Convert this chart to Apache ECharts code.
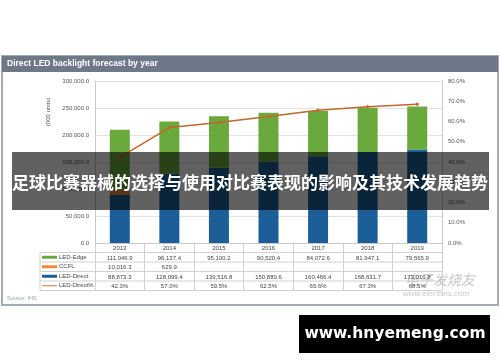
<!DOCTYPE html>
<html><head><meta charset="utf-8">
<script src="https://cdn.jsdelivr.net/npm/echarts@6/dist/echarts.min.js"></script>
<style>html,body{margin:0;padding:0;background:#fff}#c{width:500px;height:362px}</style>
</head><body><div id="c"></div>
<script>
const years = ['2013','2014','2015','2016','2017','2018','2019'];
const ledEdge = [111046.9, 96137.4, 95100.2, 90520.4, 84072.6, 81947.1, 79565.9];
const ccfl = [10016.3, 629.9, null, null, null, null, null];
const ledDirect = [88873.3, 128099.4, 139516.8, 150880.6, 160466.4, 168631.7, 173016.8];
const ledDirectPct = [42.3, 57.0, 59.5, 62.5, 65.6, 67.3, 68.5];
const leftTicks = [0, 50000, 100000, 150000, 200000, 250000, 300000];
const rightTicks = [0, 10, 20, 30, 40, 50, 60, 70, 80];

const fmtNum = v => v == null ? '' : v.toLocaleString('en-US', {minimumFractionDigits: 1, maximumFractionDigits: 1});
const fmtPct = v => v == null ? '' : v.toFixed(1) + '%';

const C_EDGE = '#6aaa3c', C_CCFL = '#ef8a3a', C_DIRECT = '#1c5f98', C_LINE = '#c4652d';
const GL = 95, GR = 442, GT = 81, GB = 243;
const rowH = 9.5;
const tableRows = [ledEdge.map(fmtNum), ccfl.map(fmtNum), ledDirect.map(fmtNum), ledDirectPct.map(fmtPct)];

const chart = echarts.init(document.getElementById('c'));

const xAxes = [{
  type: 'category', data: years, gridIndex: 0, position: 'bottom',
  axisLine: {show: true, lineStyle: {color: '#c8c8c8'}},
  axisTick: {show: true, interval: 0, length: rowH * 5, lineStyle: {color: '#d0d0d0'}},
  axisLabel: {fontSize: 6, color: '#444', margin: 2.5, fontFamily: 'Liberation Sans'}
}];
tableRows.forEach((row, i) => {
  xAxes.push({
    type: 'category', data: years, gridIndex: 0, position: 'bottom', offset: rowH * (i + 1),
    axisLine: {show: false}, axisTick: {show: false},
    axisLabel: {fontSize: 6, color: '#444', margin: 2.5, fontFamily: 'Liberation Sans', interval: 0,
      formatter: (v, idx) => row[idx]}
  });
});

const graphics = [
  {type: 'rect', shape: {x: 2, y: 56, width: 496, height: 249}, style: {fill: '#fff', stroke: '#a3abb5', lineWidth: 2}, z: -10},
  {type: 'rect', shape: {x: 2, y: 56, width: 496, height: 16}, style: {fill: '#6e7889'}, z: -9},
  {type: 'text', x: 7, y: 64, style: {text: 'Direct LED backlight forecast by year', fill: '#fff', font: 'bold 8.5px Liberation Sans', textVerticalAlign: 'middle'}},
  {type: 'text', x: 48, y: 112, rotation: Math.PI / 2, style: {text: '(000 units)', fill: '#555', font: '6px Liberation Sans', textAlign: 'center', textVerticalAlign: 'middle'}},
  {type: 'text', x: 7, y: 298, style: {text: 'Source: IHS', fill: '#9aa', font: '5.5px Liberation Sans', textVerticalAlign: 'middle'}},
  {type: 'line', shape: {x1: 40, y1: GB + rowH, x2: 40, y2: GB + rowH * 5}, style: {stroke: '#d0d0d0', lineWidth: 1}},
  {type: 'text', x: 440, y: 280, style: {text: '电子发烧友', fill: 'rgba(150,150,150,0.55)', font: 'italic 14px Noto Sans CJK SC', textAlign: 'center', textVerticalAlign: 'middle'}},
  {type: 'text', x: 436, y: 294, style: {text: 'www.elecfans.com', fill: 'rgba(150,150,150,0.55)', font: 'italic 8px Liberation Sans', textAlign: 'center', textVerticalAlign: 'middle'}},
  {type: 'rect', shape: {x: 12, y: 152, width: 477, height: 58}, style: {fill: 'rgba(0,0,0,0.62)'}, z: 100},
  {type: 'text', x: 250, y: 183, z: 101, style: {text: '足球比赛器械的选择与使用对比赛表现的影响及其技术发展趋势', fill: '#fff', font: 'bold 17px Noto Sans CJK SC', textAlign: 'center', textVerticalAlign: 'middle'}},
  {type: 'rect', shape: {x: 299, y: 315, width: 191, height: 38}, style: {fill: '#000'}, z: 100},
  {type: 'text', x: 395, y: 334, z: 101, style: {text: 'www.hnyemeng.com', fill: '#fff', font: 'bold 15.5px DejaVu Sans', textAlign: 'center', textVerticalAlign: 'middle'}}
];
for (let i = 1; i <= 5; i++) {
  graphics.push({type: 'line', shape: {x1: 40, y1: GB + rowH * i, x2: GR, y2: GB + rowH * i}, style: {stroke: '#d0d0d0', lineWidth: 1}});
}

chart.setOption({
  animation: false,
  backgroundColor: '#fff',
  grid: {left: GL, right: 500 - GR, top: GT, bottom: 362 - GB},
  legend: {
    orient: 'vertical', left: 42, top: GB + rowH + 1, padding: 0, itemWidth: 15, itemHeight: 3, itemGap: 2,
    textStyle: {fontSize: 6, color: '#444', fontFamily: 'Liberation Sans', lineHeight: 7.5, padding: [0, 0, 0, -3]},
    data: [
      {name: 'LED-Edge', icon: 'rect'},
      {name: 'CCFL', icon: 'rect'},
      {name: 'LED-Direct', icon: 'rect'},
      {name: 'LED-Direct%', icon: 'path://M0,0L20,0L20,1.2L0,1.2Z'}
    ]
  },
  xAxis: xAxes,
  yAxis: [
    {type: 'value', min: 0, max: 300000, interval: 50000,
      axisLine: {show: true, lineStyle: {color: '#c8c8c8'}}, axisTick: {show: false},
      splitLine: {lineStyle: {color: '#e2e2e2'}},
      axisLabel: {fontSize: 6, color: '#555', margin: 6, fontFamily: 'Liberation Sans', formatter: v => fmtNum(v)}},
    {type: 'value', min: 0, max: 80, interval: 10,
      axisLine: {show: true, lineStyle: {color: '#c8c8c8'}}, axisTick: {show: false},
      splitLine: {show: false},
      axisLabel: {fontSize: 6, color: '#555', margin: 6, fontFamily: 'Liberation Sans', formatter: v => fmtPct(v)}}
  ],
  series: [
    {name: 'LED-Direct', type: 'bar', stack: 's', data: ledDirect, barWidth: 20, itemStyle: {color: C_DIRECT}},
    {name: 'CCFL', type: 'bar', stack: 's', data: ccfl, barWidth: 20, itemStyle: {color: C_CCFL}},
    {name: 'LED-Edge', type: 'bar', stack: 's', data: ledEdge, barWidth: 20, itemStyle: {color: C_EDGE}},
    {name: 'LED-Direct%', type: 'line', yAxisIndex: 1, data: ledDirectPct, symbol: 'diamond', symbolSize: 4,
      lineStyle: {color: C_LINE, width: 1.5}, itemStyle: {color: C_LINE}}
  ],
  graphic: graphics
});
</script></body></html>
